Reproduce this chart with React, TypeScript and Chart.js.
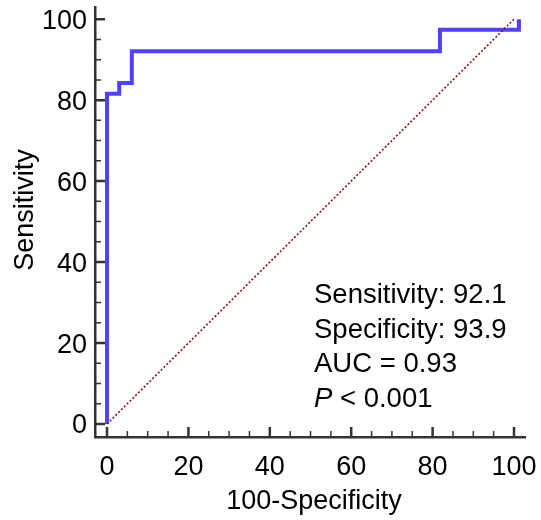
import React, { useEffect, useRef } from "react";
import { Chart, registerables } from "chart.js";

Chart.register(...registerables);

// ROC curve corner points (100-Specificity, Sensitivity)
const rocFpr = [0, 0, 3.0, 6.1, 81.8, 101.2];
const rocSens = [0, 81.6, 84.2, 92.1, 97.4, 100];
// Reference (chance) diagonal
const refX = [0, 100];
const refY = [0, 100];
// Axis ticks
const majorTicks = [0, 20, 40, 60, 80, 100];
const minorTicks = [5, 10, 15, 25, 30, 35, 45, 50, 55, 65, 70, 75, 85, 90, 95];
// Texts
const xTitle = "100-Specificity";
const yTitle = "Sensitivity";
const statLines = ["Sensitivity: 92.1", "Specificity: 93.9", "AUC = 0.93"];
const pLabel = "P";
const pRest = " < 0.001";

const FONT = '"Liberation Sans", Arial, Helvetica, sans-serif';
const AXIS_COLOR = "#333333";

const decorPlugin = {
  id: "decor",
  beforeDatasetsDraw(chart: any) {
    const { ctx, chartArea: a, scales } = chart;
    const x = scales.x;
    const y = scales.y;
    ctx.save();
    ctx.strokeStyle = AXIS_COLOR;
    ctx.lineWidth = 2.5;
    ctx.beginPath();
    for (const v of majorTicks) {
      const px = x.getPixelForValue(v);
      ctx.moveTo(px, a.bottom);
      ctx.lineTo(px, a.bottom - 10);
      const py = y.getPixelForValue(v);
      ctx.moveTo(a.left, py);
      ctx.lineTo(a.left + 10, py);
    }
    ctx.stroke();
    ctx.lineWidth = 1.5;
    ctx.beginPath();
    for (const v of minorTicks) {
      const px = x.getPixelForValue(v);
      ctx.moveTo(px, a.bottom);
      ctx.lineTo(px, a.bottom - 6);
      const py = y.getPixelForValue(v);
      ctx.moveTo(a.left, py);
      ctx.lineTo(a.left + 6, py);
    }
    ctx.stroke();
    ctx.restore();
  },
  afterDraw(chart: any) {
    const { ctx, chartArea: a } = chart;
    ctx.save();
    ctx.fillStyle = "#000";
    // axis titles
    ctx.font = `27px ${FONT}`;
    ctx.textAlign = "center";
    ctx.textBaseline = "alphabetic";
    ctx.fillText(xTitle, (a.left + a.right) / 2 + 4, a.bottom + 72);
    ctx.save();
    ctx.translate(a.left - 62, (a.top + a.bottom) / 2 - 12);
    ctx.rotate(-Math.PI / 2);
    ctx.fillText(yTitle, 0, 0);
    ctx.restore();
    // statistics
    ctx.font = `27.5px ${FONT}`;
    ctx.textAlign = "left";
    const tx = a.left + 219;
    const lineGap = 34.7;
    let ty = a.top + 296;
    for (const s of statLines) {
      ctx.fillText(s, tx, ty);
      ty += lineGap;
    }
    ctx.font = `italic 27.5px ${FONT}`;
    ctx.fillText(pLabel, tx, ty);
    const w = ctx.measureText(pLabel).width;
    ctx.font = `27.5px ${FONT}`;
    ctx.fillText(pRest, tx + w, ty);
    ctx.restore();
  },
};

export default function App() {
  const ref = useRef<HTMLCanvasElement | null>(null);
  useEffect(() => {
    document.body.style.margin = "0";
    const canvas = ref.current;
    if (!canvas) return;
    const chart = new Chart(canvas, {
      type: "scatter",
      data: {
        datasets: [
          {
            label: "Reference",
            data: refX.map((v, i) => ({ x: v, y: refY[i] })),
            showLine: true,
            borderColor: "#8b1010",
            borderWidth: 1.6,
            borderDash: [2, 2],
            pointRadius: 0,
            fill: false,
          },
          {
            label: "ROC",
            data: rocFpr.map((v, i) => ({ x: v, y: rocSens[i] })),
            showLine: true,
            stepped: true,
            borderColor: "#5040ff",
            borderWidth: 4,
            pointRadius: 0,
            fill: false,
          },
        ],
      },
      options: {
        responsive: false,
        animation: false,
        layout: { padding: { left: 0, right: 16, top: 7, bottom: 0 } },
        plugins: {
          legend: { display: false },
          tooltip: { enabled: false },
        },
        scales: {
          x: {
            type: "linear",
            min: -2.95,
            max: 102.7,
            grid: { display: false, drawTicks: false },
            border: { display: true, color: AXIS_COLOR, width: 2.5 },
            ticks: {
              color: "#000",
              font: { family: FONT, size: 27 },
              padding: 14,
              maxRotation: 0,
              autoSkip: false,
            },
            afterBuildTicks: (s: any) => {
              s.ticks = majorTicks.map((v) => ({ value: v }));
            },
            afterFit: (s: any) => {
              s.height = 83;
              s.paddingLeft = 0;
              s.paddingRight = 0;
            },
          },
          y: {
            type: "linear",
            min: -3.2,
            max: 103,
            grid: { display: false, drawTicks: false },
            border: { display: true, color: AXIS_COLOR, width: 2.5 },
            ticks: {
              color: "#000",
              font: { family: FONT, size: 27 },
              padding: 8,
              labelOffset: 2,
              autoSkip: false,
            },
            afterBuildTicks: (s: any) => {
              s.ticks = majorTicks.map((v) => ({ value: v }));
            },
            afterFit: (s: any) => {
              s.width = 95;
              s.paddingTop = 0;
              s.paddingBottom = 0;
            },
          },
        },
      },
      plugins: [decorPlugin],
    });
    return () => chart.destroy();
  }, []);
  return (
    <div style={{ position: "absolute", left: 0, top: 0, width: 541, height: 520 }}>
      <canvas ref={ref} width={541} height={520} style={{ display: "block" }} />
    </div>
  );
}
